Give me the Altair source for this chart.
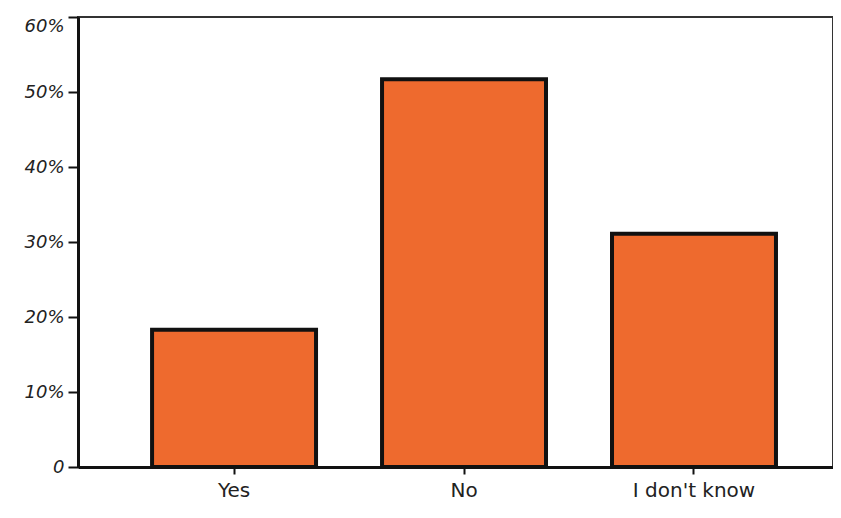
import altair as alt
import pandas as pd

answers = ["Yes", "No", "I don't know"]
shares = [18.3, 51.7, 31.1]
y_ticks = [0, 10, 20, 30, 40, 50, 60]

df = pd.DataFrame({"answer": answers, "share": shares})

chart = alt.Chart(df).mark_bar(
    color="#EE6A2E", stroke="#111111", strokeWidth=4, strokeJoin="miter"
).encode(
    x=alt.X("answer:N", sort=answers, title=None,
            scale=alt.Scale(paddingInner=0.287, paddingOuter=0.285, align=0.565),
            axis=alt.Axis(labelAngle=0, labelFont="DejaVu Sans", labelFontSize=20,
                          labelColor="#222222", domainColor="#111111", domainWidth=3,
                          tickColor="#111111", tickWidth=2, tickSize=7, labelPadding=6)),
    y=alt.Y("share:Q", title=None,
            scale=alt.Scale(domain=[0, 60], nice=False),
            axis=alt.Axis(values=y_ticks, grid=False,
                          labelExpr="datum.value == 0 ? '0' : datum.value + '%'",
                          labelBaseline={"condition": {"test": "datum.value == 60", "value": "top"},
                                         "value": "middle"},
                          labelFont="DejaVu Sans", labelFontStyle="italic", labelFontSize=18,
                          labelColor="#222222", domainColor="#111111", domainWidth=3,
                          tickColor="#111111", tickWidth=2, tickSize=10, labelPadding=4)),
).properties(
    width=755, height=450,
    background="white",
    autosize=alt.AutoSizeParams(type="none"),
    padding={"left": 70, "top": 9, "right": 0, "bottom": 40},
).configure_view(
    stroke="#333333", strokeWidth=2
)

chart.save("out.html", embed_options={"renderer": "svg", "actions": False})
